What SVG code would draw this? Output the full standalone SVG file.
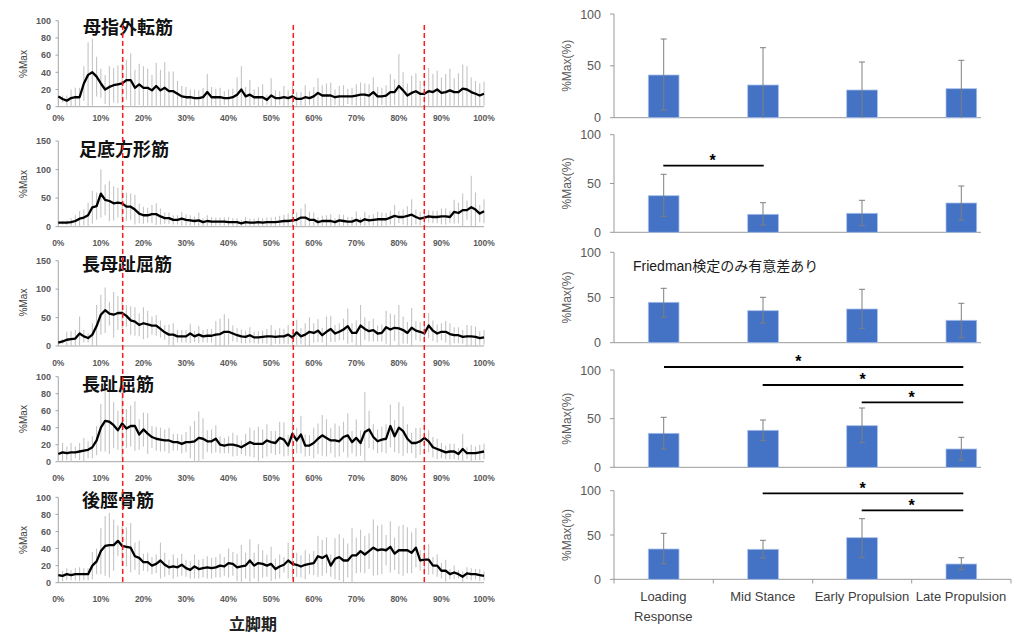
<svg xmlns="http://www.w3.org/2000/svg" width="1024" height="644" viewBox="0 0 1024 644">
<style>
.bg{fill:#ffffff}
.ttl{font-family:"Noto Sans CJK JP","Noto Sans CJK SC",sans-serif;font-size:18px;font-weight:bold;fill:#111}
.ax{stroke:#a6a6a6;stroke-width:1;fill:none}
.yt{font-family:"Liberation Sans",Arial,sans-serif;font-size:9px;font-weight:bold;fill:#595959;text-anchor:end}
.xt{font-family:"Liberation Sans",Arial,sans-serif;font-size:8.5px;font-weight:bold;fill:#595959;text-anchor:middle}
.yl{font-family:"Liberation Sans",Arial,sans-serif;font-size:10px;fill:#404040;text-anchor:middle}
.eb{stroke:#c4c4c4;stroke-width:1.1;fill:none;vector-effect:non-scaling-stroke}
.mean{stroke:#000;stroke-width:2.3;fill:none;stroke-linejoin:round;vector-effect:non-scaling-stroke}
.red{stroke:#ff1a1a;stroke-width:1.5;stroke-dasharray:5 3;fill:none}
.rax{stroke:#9a9a9a;stroke-width:1;fill:none}
.rt{font-family:"Liberation Sans",Arial,sans-serif;font-size:12.5px;fill:#595959;text-anchor:end}
.ryl{font-family:"Liberation Sans",Arial,sans-serif;font-size:12px;fill:#595959;text-anchor:middle}
.bar{fill:#4472c4;stroke:#a9c1ea;stroke-width:0.8}
.rerr{stroke:#7f7f7f;stroke-width:1;fill:none}
.sig{stroke:#000;stroke-width:1.8;fill:none}
.star{font-family:"Liberation Sans",Arial,sans-serif;font-size:16px;font-weight:bold;fill:#000;text-anchor:middle}
.cat{font-family:"Liberation Sans",Arial,sans-serif;font-size:13px;fill:#404040;text-anchor:middle}
.note{font-family:"Liberation Sans","Noto Sans CJK JP",sans-serif;font-size:14px;fill:#1a1a1a}
.xlab{font-family:"Noto Sans CJK JP","Noto Sans CJK SC",sans-serif;font-size:16px;font-weight:bold;fill:#222;text-anchor:middle}
</style>
<rect class="bg" x="0" y="0" width="1024" height="644"/>

<!-- Left chart 1 -->
<g id="emg-abductor-hallucis">
<path class="ax" d="M58.3,20.7V106.7H484 M55.5,20.7h2.8 M55.5,37.9h2.8 M55.5,55.1h2.8 M55.5,72.3h2.8 M55.5,89.5h2.8 M55.5,106.7h2.8"/>
<text class="yt" x="51" y="23.9">100</text><text class="yt" x="51" y="41.1">80</text><text class="yt" x="51" y="58.3">60</text><text class="yt" x="51" y="75.5">40</text><text class="yt" x="51" y="92.7">20</text><text class="yt" x="51" y="109.9">0</text>
<g><text class="xt" x="58.3" y="121.3">0%</text><text class="xt" x="100.9" y="121.3">10%</text><text class="xt" x="143.4" y="121.3">20%</text><text class="xt" x="186" y="121.3">30%</text><text class="xt" x="228.6" y="121.3">40%</text><text class="xt" x="271.2" y="121.3">50%</text><text class="xt" x="313.7" y="121.3">60%</text><text class="xt" x="356.3" y="121.3">70%</text><text class="xt" x="398.9" y="121.3">80%</text><text class="xt" x="441.4" y="121.3">90%</text><text class="xt" x="484" y="121.3">100%</text></g>
<text class="yl" transform="translate(26.5,64) rotate(-90)">%Max</text>
<g transform="translate(58.3,106.7) scale(4.257,-0.86)">
<path class="eb" d="M0,15V9 M1,13V5 M2,13V1 M3,20V0 M4,22V0 M5,22V0 M6,47V7 M7,75V0 M8,79V1 M9,58V12 M10,44V10 M11,37V3 M12,47V0 M13,45V5 M14,48V4 M15,50V4 M16,54V8 M17,62V0 M18,43V1 M19,50V2 M20,47V0 M21,44V0 M22,37V1 M23,51V0 M24,43V0 M25,52V0 M26,41V0 M27,41V0 M28,30V0 M29,24V0 M30,23V0 M31,20V2 M32,20V0 M33,19V1 M34,22V0 M35,38V0 M36,23V0 M37,21V1 M38,22V0 M39,18V2 M40,20V0 M41,21V1 M42,34V0 M43,47V0 M44,23V1 M45,31V0 M46,20V2 M47,23V0 M48,26V0 M49,14V2 M50,33V0 M51,19V1 M52,18V2 M53,24V0 M54,19V1 M55,24V0 M56,17V1 M57,17V1 M58,25V0 M59,18V2 M60,23V1 M61,33V0 M62,25V1 M63,27V0 M64,28V0 M65,20V2 M66,24V0 M67,25V0 M68,21V3 M69,22V2 M70,26V0 M71,28V0 M72,27V1 M73,26V0 M74,34V0 M75,23V1 M76,22V2 M77,25V1 M78,38V0 M79,32V2 M80,61V0 M81,40V0 M82,27V0 M83,36V0 M84,39V0 M85,30V0 M86,31V0 M87,45V0 M88,38V0 M89,42V0 M90,34V0 M91,38V0 M92,44V0 M93,33V1 M94,39V0 M95,49V0 M96,47V0 M97,34V0 M98,30V0 M99,27V0 M100,29V1"/>
<polyline class="mean" points="0,12 1,9 2,7 3,10 4,11 5,11 6,27 7,37 8,40 9,35 10,27 11,20 12,23 13,25 14,26 15,27 16,31 17,31 18,22 19,26 20,22 21,22 22,19 23,24 24,19 25,22 26,18 27,18 28,15 29,12 30,11 31,11 32,10 33,10 34,11 35,17 36,11 37,11 38,11 39,10 40,10 41,11 42,14 43,20 44,12 45,14 46,11 47,11 48,11 49,8 50,13 51,10 52,10 53,11 54,10 55,12 56,9 57,9 58,11 59,10 60,12 61,16 62,13 63,13 64,13 65,11 66,12 67,12 68,12 69,12 70,13 71,14 72,14 73,13 74,17 75,12 76,12 77,13 78,17 79,17 80,24 81,19 82,13 83,16 84,18 85,15 86,15 87,18 88,17 89,20 90,16 91,17 92,19 93,17 94,17 95,21 96,20 97,17 98,15 99,13 100,15"/>
</g>
<text class="ttl" x="83" y="33.7">母指外転筋</text>
</g>

<!-- Left chart 2 -->
<g id="emg-quadratus-plantae">
<path class="ax" d="M58.3,141V226.7H484 M55.5,141h2.8 M55.5,169.6h2.8 M55.5,198.1h2.8 M55.5,226.7h2.8"/>
<text class="yt" x="51" y="144.2">150</text><text class="yt" x="51" y="172.8">100</text><text class="yt" x="51" y="201.3">50</text><text class="yt" x="51" y="229.9">0</text>
<g><text class="xt" x="58.3" y="246.3">0%</text><text class="xt" x="100.9" y="246.3">10%</text><text class="xt" x="143.4" y="246.3">20%</text><text class="xt" x="186" y="246.3">30%</text><text class="xt" x="228.6" y="246.3">40%</text><text class="xt" x="271.2" y="246.3">50%</text><text class="xt" x="313.7" y="246.3">60%</text><text class="xt" x="356.3" y="246.3">70%</text><text class="xt" x="398.9" y="246.3">80%</text><text class="xt" x="441.4" y="246.3">90%</text><text class="xt" x="484" y="246.3">100%</text></g>
<text class="yl" transform="translate(26.5,184) rotate(-90)">%Max</text>
<g transform="translate(58.3,226.7) scale(4.257,-0.5713)">
<path class="eb" d="M0,10V4 M1,10V4 M2,11V3 M3,15V1 M4,20V0 M5,27V1 M6,30V2 M7,42V0 M8,63V5 M9,60V12 M10,100V16 M11,74V20 M12,80V10 M13,71V11 M14,68V16 M15,70V12 M16,60V10 M17,58V12 M18,56V4 M19,40V6 M20,35V5 M21,33V7 M22,38V6 M23,41V3 M24,32V4 M25,25V5 M26,25V5 M27,20V4 M28,20V4 M29,26V2 M30,22V2 M31,20V2 M32,18V2 M33,25V0 M34,15V1 M35,20V0 M36,17V1 M37,16V2 M38,16V2 M39,16V2 M40,17V0 M41,15V1 M42,15V1 M43,12V0 M44,17V0 M45,14V0 M46,14V0 M47,16V0 M48,15V0 M49,16V0 M50,16V0 M51,17V0 M52,19V0 M53,21V0 M54,23V0 M55,24V0 M56,25V0 M57,32V0 M58,40V0 M59,26V0 M60,25V0 M61,16V0 M62,19V1 M63,20V0 M64,22V0 M65,15V1 M66,22V0 M67,21V0 M68,17V1 M69,17V1 M70,27V0 M71,16V2 M72,26V0 M73,20V2 M74,22V2 M75,26V0 M76,25V1 M77,24V2 M78,28V4 M79,38V0 M80,28V6 M81,30V4 M82,36V2 M83,48V0 M84,30V4 M85,26V2 M86,28V4 M87,29V7 M88,28V6 M89,28V6 M90,32V4 M91,32V4 M92,28V6 M93,47V5 M94,42V6 M95,58V0 M96,46V12 M97,89V0 M98,60V0 M99,38V8 M100,48V6"/>
<polyline class="mean" points="0,7 1,7 2,7 3,8 4,10 5,14 6,16 7,20 8,34 9,36 10,58 11,47 12,45 13,41 14,42 15,41 16,35 17,35 18,30 19,23 20,20 21,20 22,22 23,22 24,18 25,15 26,15 27,12 28,12 29,14 30,12 31,11 32,10 33,11 34,8 35,10 36,9 37,9 38,9 39,9 40,8 41,8 42,8 43,6 44,8 45,7 46,7 47,8 48,7 49,8 50,8 51,8 52,9 53,10 54,10 55,11 56,12 57,16 58,16 59,12 60,12 61,8 62,10 63,10 64,10 65,8 66,11 67,10 68,9 69,9 70,12 71,9 72,13 73,11 74,12 75,13 76,13 77,13 78,16 79,19 80,17 81,17 82,19 83,21 84,17 85,14 86,16 87,18 88,17 89,17 90,18 91,18 92,17 93,26 94,24 95,29 96,29 97,34 98,30 99,23 100,27"/>
</g>
<text class="ttl" x="79" y="156">足底方形筋</text>
</g>

<!-- Left chart 3 -->
<g id="emg-fhl">
<path class="ax" d="M58.3,260.7V346H484 M55.5,260.7h2.8 M55.5,289.1h2.8 M55.5,317.6h2.8 M55.5,346h2.8"/>
<text class="yt" x="51" y="263.9">150</text><text class="yt" x="51" y="292.3">100</text><text class="yt" x="51" y="320.8">50</text><text class="yt" x="51" y="349.2">0</text>
<g><text class="xt" x="58.3" y="366.3">0%</text><text class="xt" x="100.9" y="366.3">10%</text><text class="xt" x="143.4" y="366.3">20%</text><text class="xt" x="186" y="366.3">30%</text><text class="xt" x="228.6" y="366.3">40%</text><text class="xt" x="271.2" y="366.3">50%</text><text class="xt" x="313.7" y="366.3">60%</text><text class="xt" x="356.3" y="366.3">70%</text><text class="xt" x="398.9" y="366.3">80%</text><text class="xt" x="441.4" y="366.3">90%</text><text class="xt" x="484" y="366.3">100%</text></g>
<text class="yl" transform="translate(26.5,302.5) rotate(-90)">%Max</text>
<g transform="translate(58.3,346) scale(4.257,-0.5687)">
<path class="eb" d="M0,8V4 M1,12V4 M2,25V0 M3,26V0 M4,28V0 M5,52V0 M6,28V6 M7,22V6 M8,40V0 M9,72V0 M10,90V20 M11,103V23 M12,78V36 M13,95V15 M14,88V28 M15,85V31 M16,72V34 M17,70V20 M18,68V18 M19,57V17 M20,68V12 M21,62V14 M22,52V20 M23,54V18 M24,45V15 M25,37V11 M26,38V2 M27,40V0 M28,28V6 M29,28V6 M30,28V6 M31,39V5 M32,27V7 M33,35V5 M34,28V6 M35,30V6 M36,30V6 M37,44V0 M38,48V0 M39,56V0 M40,48V2 M41,36V8 M42,31V7 M43,29V5 M44,27V5 M45,33V5 M46,25V5 M47,26V4 M48,27V5 M49,30V4 M50,37V0 M51,28V4 M52,31V3 M53,30V4 M54,37V3 M55,28V2 M56,46V2 M57,31V3 M58,40V0 M59,50V0 M60,40V6 M61,47V7 M62,32V6 M63,52V0 M64,53V7 M65,37V7 M66,40V10 M67,48V10 M68,66V4 M69,40V6 M70,45V1 M71,72V0 M72,50V10 M73,44V8 M74,48V8 M75,36V8 M76,38V8 M77,62V4 M78,57V1 M79,55V9 M80,72V0 M81,52V4 M82,42V4 M83,67V0 M84,44V10 M85,42V8 M86,38V6 M87,58V14 M88,45V9 M89,38V6 M90,40V10 M91,44V6 M92,40V2 M93,33V5 M94,33V5 M95,28V4 M96,37V0 M97,36V0 M98,34V0 M99,26V2 M100,28V2"/>
<polyline class="mean" points="0,6 1,8 2,11 3,12 4,13 5,22 6,17 7,14 8,20 9,35 10,55 11,63 12,57 13,55 14,58 15,58 16,53 17,45 18,43 19,37 20,40 21,38 22,36 23,36 24,30 25,24 26,20 27,20 28,17 29,17 30,17 31,22 32,17 33,20 34,17 35,18 36,18 37,20 38,21 39,25 40,25 41,22 42,19 43,17 44,16 45,19 46,15 47,15 48,16 49,17 50,17 51,16 52,17 53,17 54,20 55,15 56,24 57,17 58,20 59,25 60,23 61,27 62,19 63,25 64,30 65,22 66,25 67,29 68,35 69,23 70,23 71,36 72,30 73,26 74,28 75,22 76,23 77,33 78,29 79,32 80,31 81,28 82,23 83,32 84,27 85,25 86,22 87,36 88,27 89,22 90,25 91,25 92,21 93,19 94,19 95,16 96,17 97,17 98,16 99,14 100,15"/>
</g>
<text class="ttl" x="82" y="270.5">長母趾屈筋</text>
</g>

<!-- Left chart 4 -->
<g id="emg-fdl">
<path class="ax" d="M58.3,376.7V461.7H484 M55.5,376.7h2.8 M55.5,393.7h2.8 M55.5,410.7h2.8 M55.5,427.7h2.8 M55.5,444.7h2.8 M55.5,461.7h2.8"/>
<text class="yt" x="51" y="379.9">100</text><text class="yt" x="51" y="396.9">80</text><text class="yt" x="51" y="413.9">60</text><text class="yt" x="51" y="430.9">40</text><text class="yt" x="51" y="447.9">20</text><text class="yt" x="51" y="464.9">0</text>
<g><text class="xt" x="58.3" y="481.3">0%</text><text class="xt" x="100.9" y="481.3">10%</text><text class="xt" x="143.4" y="481.3">20%</text><text class="xt" x="186" y="481.3">30%</text><text class="xt" x="228.6" y="481.3">40%</text><text class="xt" x="271.2" y="481.3">50%</text><text class="xt" x="313.7" y="481.3">60%</text><text class="xt" x="356.3" y="481.3">70%</text><text class="xt" x="398.9" y="481.3">80%</text><text class="xt" x="441.4" y="481.3">90%</text><text class="xt" x="484" y="481.3">100%</text></g>
<text class="yl" transform="translate(26.5,419) rotate(-90)">%Max</text>
<g transform="translate(58.3,461.7) scale(4.257,-0.85)">
<path class="eb" d="M0,20V0 M1,22V0 M2,18V2 M3,22V0 M4,18V4 M5,22V2 M6,28V0 M7,24V4 M8,30V4 M9,42V8 M10,68V12 M11,84V12 M12,85V9 M13,70V16 M14,60V14 M15,85V5 M16,62V16 M17,66V18 M18,71V13 M19,50V14 M20,58V18 M21,57V9 M22,42V16 M23,41V13 M24,40V12 M25,38V12 M26,40V10 M27,33V13 M28,33V13 M29,32V10 M30,35V11 M31,42V4 M32,48V0 M33,59V0 M34,51V3 M35,37V11 M36,38V10 M37,43V11 M38,30V10 M39,28V10 M40,30V10 M41,34V6 M42,31V7 M43,25V9 M44,33V7 M45,40V6 M46,37V5 M47,41V1 M48,38V4 M49,44V6 M50,36V10 M51,36V8 M52,47V9 M53,46V6 M54,31V7 M55,62V4 M56,40V10 M57,54V10 M58,32V6 M59,31V7 M60,40V4 M61,45V9 M62,55V7 M63,50V6 M64,40V10 M65,45V5 M66,42V6 M67,47V11 M68,57V5 M69,36V10 M70,50V6 M71,37V7 M72,82V0 M73,60V16 M74,44V14 M75,38V10 M76,41V11 M77,44V10 M78,67V17 M79,49V11 M80,70V10 M81,65V7 M82,44V10 M83,34V10 M84,40V4 M85,40V8 M86,46V10 M87,37V11 M88,29V5 M89,27V3 M90,22V4 M91,19V3 M92,21V3 M93,21V3 M94,16V2 M95,33V0 M96,17V3 M97,20V0 M98,18V2 M99,20V2 M100,21V3"/>
<polyline class="mean" points="0,9 1,11 2,10 3,11 4,11 5,12 6,13 7,14 8,17 9,25 10,40 11,48 12,47 13,43 14,37 15,45 16,39 17,42 18,42 19,32 20,38 21,33 22,29 23,27 24,26 25,25 26,25 27,23 28,23 29,21 30,23 31,23 32,24 33,28 34,27 35,24 36,24 37,27 38,20 39,19 40,20 41,20 42,19 43,17 44,20 45,23 46,21 47,21 48,21 49,25 50,23 51,22 52,28 53,26 54,19 55,33 56,25 57,32 58,19 59,19 60,22 61,27 62,31 63,28 64,25 65,25 66,24 67,29 68,31 69,23 70,28 71,22 72,35 73,38 74,29 75,24 76,26 77,27 78,42 79,30 80,40 81,36 82,27 83,22 84,22 85,24 86,28 87,24 88,17 89,15 90,13 91,11 92,12 93,12 94,9 95,15 96,10 97,10 98,10 99,11 100,12"/>
</g>
<text class="ttl" x="82" y="390.5">長趾屈筋</text>
</g>

<!-- Left chart 5 -->
<g id="emg-tibialis-posterior">
<path class="ax" d="M58.3,497.3V582.7H484 M55.5,497.3h2.8 M55.5,514.4h2.8 M55.5,531.5h2.8 M55.5,548.5h2.8 M55.5,565.6h2.8 M55.5,582.7h2.8"/>
<text class="yt" x="51" y="500.5">100</text><text class="yt" x="51" y="517.6">80</text><text class="yt" x="51" y="534.7">60</text><text class="yt" x="51" y="551.7">40</text><text class="yt" x="51" y="568.8">20</text><text class="yt" x="51" y="585.9">0</text>
<g><text class="xt" x="58.3" y="602">0%</text><text class="xt" x="100.9" y="602">10%</text><text class="xt" x="143.4" y="602">20%</text><text class="xt" x="186" y="602">30%</text><text class="xt" x="228.6" y="602">40%</text><text class="xt" x="271.2" y="602">50%</text><text class="xt" x="313.7" y="602">60%</text><text class="xt" x="356.3" y="602">70%</text><text class="xt" x="398.9" y="602">80%</text><text class="xt" x="441.4" y="602">90%</text><text class="xt" x="484" y="602">100%</text></g>
<text class="yl" transform="translate(26.5,540) rotate(-90)">%Max</text>
<g transform="translate(58.3,582.7) scale(4.257,-0.854)">
<path class="eb" d="M0,12V6 M1,14V2 M2,17V3 M3,15V3 M4,17V3 M5,18V2 M6,17V3 M7,17V3 M8,36V4 M9,40V10 M10,64V10 M11,78V8 M12,82V6 M13,74V14 M14,67V31 M15,66V20 M16,65V19 M17,70V12 M18,47V15 M19,49V9 M20,34V14 M21,35V13 M22,30V10 M23,33V11 M24,47V5 M25,35V7 M26,27V9 M27,33V5 M28,29V7 M29,34V8 M30,27V7 M31,25V5 M32,33V5 M33,27V5 M34,28V6 M35,31V5 M36,29V5 M37,30V6 M38,34V6 M39,30V8 M40,40V6 M41,36V8 M42,34V2 M43,44V0 M44,35V5 M45,51V1 M46,35V5 M47,45V1 M48,38V6 M49,33V7 M50,42V2 M51,28V4 M52,33V5 M53,30V12 M54,47V5 M55,40V4 M56,35V7 M57,32V6 M58,38V4 M59,34V10 M60,37V9 M61,55V7 M62,50V8 M63,53V11 M64,33V7 M65,52V4 M66,57V3 M67,52V0 M68,46V6 M69,64V0 M70,53V11 M71,62V12 M72,55V11 M73,58V16 M74,74V8 M75,67V9 M76,68V10 M77,56V20 M78,72V12 M79,53V15 M80,66V10 M81,68V8 M82,65V11 M83,59V11 M84,64V18 M85,38V14 M86,45V9 M87,45V9 M88,30V10 M89,33V7 M90,23V5 M91,27V1 M92,16V4 M93,20V4 M94,15V5 M95,13V1 M96,18V4 M97,17V3 M98,16V4 M99,16V2 M100,13V3"/>
<polyline class="mean" points="0,9 1,8 2,10 3,9 4,10 5,10 6,10 7,10 8,20 9,25 10,37 11,43 12,44 13,44 14,49 15,43 16,42 17,41 18,31 19,29 20,24 21,24 22,20 23,22 24,26 25,21 26,18 27,19 28,18 29,21 30,17 31,15 32,19 33,16 34,17 35,18 36,17 37,18 38,20 39,19 40,23 41,22 42,18 43,19 44,20 45,26 46,20 47,23 48,22 49,20 50,22 51,16 52,19 53,21 54,26 55,22 56,21 57,19 58,21 59,22 60,23 61,31 62,29 63,32 64,20 65,28 66,30 67,26 68,26 69,32 70,32 71,37 72,33 73,37 74,41 75,38 76,39 77,38 78,42 79,34 80,38 81,38 82,38 83,35 84,41 85,26 86,27 87,27 88,20 89,20 90,14 91,14 92,10 93,12 94,10 95,7 96,11 97,10 98,10 99,9 100,8"/>
</g>
<text class="ttl" x="82" y="506.5">後脛骨筋</text>
<text class="xlab" x="253" y="630">立脚期</text>
</g>

<!-- Phase boundary dashed lines -->
<g id="phase-lines">
<path class="red" d="M122.7,25V585 M293.3,25V585 M424.3,25V585"/>
</g>

<!-- Right bar chart 1 -->
<g id="bar-abductor-hallucis">
<path class="rax" d="M614,14V117.7H981 M610,14h4 M610,65.85h4 M610,117.7h4"/>
<text class="rt" x="601" y="18.5">100</text><text class="rt" x="601" y="70.3">50</text><text class="rt" x="601" y="122.1">0</text>
<text class="ryl" transform="translate(570.5,65.85) rotate(-90)">%Max(%)</text>
<rect class="bar" x="648.3" y="75" width="30.7" height="42.7"/>
<rect class="bar" x="747.7" y="85" width="30.7" height="32.7"/>
<rect class="bar" x="846.7" y="90" width="30.7" height="27.7"/>
<rect class="bar" x="946" y="88.7" width="30.7" height="29"/>
<path class="rerr" d="M663.7,39V110 M660.7,39h6 M660.7,110h6 M763,47.7V117.7 M760,47.7h6 M862,62V117.7 M859,62h6 M961.3,60.3V117.7 M958.3,60.3h6"/>
</g>

<!-- Right bar chart 2 -->
<g id="bar-quadratus-plantae">
<path class="rax" d="M614,134.7V232.3H981 M610,134.7h4 M610,183.5h4 M610,232.3h4"/>
<text class="rt" x="601" y="139.2">100</text><text class="rt" x="601" y="188">50</text><text class="rt" x="601" y="236.8">0</text>
<text class="ryl" transform="translate(570.5,183.5) rotate(-90)">%Max(%)</text>
<rect class="bar" x="648.3" y="195.7" width="30.7" height="36.6"/>
<rect class="bar" x="747.7" y="214.3" width="30.7" height="18"/>
<rect class="bar" x="846.7" y="213.3" width="30.7" height="19"/>
<rect class="bar" x="946" y="203" width="30.7" height="29.3"/>
<path class="rerr" d="M663.7,174.3V216.3 M660.7,174.3h6 M660.7,216.3h6 M763,202.7V225 M760,202.7h6 M760,225h6 M862,200.3V225.7 M859,200.3h6 M859,225.7h6 M961.3,186V220 M958.3,186h6 M958.3,220h6"/>
<path class="sig" d="M663.3,165.7H763.7"/>
<text class="star" x="712.7" y="166">*</text>
</g>

<!-- Right bar chart 3 -->
<g id="bar-fhl">
<path class="rax" d="M614,252.3V342.7H981 M610,252.3h4 M610,297.5h4 M610,342.7h4"/>
<text class="rt" x="601" y="256.8">100</text><text class="rt" x="601" y="302">50</text><text class="rt" x="601" y="347.2">0</text>
<text class="ryl" transform="translate(570.5,297.5) rotate(-90)">%Max(%)</text>
<rect class="bar" x="648.3" y="302.3" width="30.7" height="40.4"/>
<rect class="bar" x="747.7" y="310.7" width="30.7" height="32"/>
<rect class="bar" x="846.7" y="309" width="30.7" height="33.7"/>
<rect class="bar" x="946" y="320.3" width="30.7" height="22.4"/>
<path class="rerr" d="M663.7,288.3V317.3 M660.7,288.3h6 M660.7,317.3h6 M763,297.3V323 M760,297.3h6 M760,323h6 M862,289.3V328.3 M859,289.3h6 M859,328.3h6 M961.3,303.3V337.7 M958.3,303.3h6 M958.3,337.7h6"/>
<text class="note" x="633" y="270.5">Friedman検定のみ有意差あり</text>
</g>

<!-- Right bar chart 4 -->
<g id="bar-fdl">
<path class="rax" d="M614,370V467.3H981 M610,370h4 M610,418.65h4 M610,467.3h4"/>
<text class="rt" x="601" y="374.5">100</text><text class="rt" x="601" y="423.1">50</text><text class="rt" x="601" y="471.8">0</text>
<text class="ryl" transform="translate(570.5,418.65) rotate(-90)">%Max(%)</text>
<rect class="bar" x="648.3" y="433.3" width="30.7" height="34"/>
<rect class="bar" x="747.7" y="430.3" width="30.7" height="37"/>
<rect class="bar" x="846.7" y="425.7" width="30.7" height="41.6"/>
<rect class="bar" x="946" y="449" width="30.7" height="18.3"/>
<path class="rerr" d="M663.7,417.3V449 M660.7,417.3h6 M660.7,449h6 M763,420V440.3 M760,420h6 M760,440.3h6 M862,408V442.7 M859,408h6 M859,442.7h6 M961.3,437.3V460.3 M958.3,437.3h6 M958.3,460.3h6"/>
<path class="sig" d="M664,367H963.3 M762.7,385H963.3 M861.7,402.3H963.3"/>
<text class="star" x="798.3" y="367.3">*</text>
<text class="star" x="862.7" y="385.3">*</text>
<text class="star" x="911.7" y="402.6">*</text>
</g>

<!-- Right bar chart 5 -->
<g id="bar-tibialis-posterior">
<path class="rax" d="M614,490.7V583.5 M614,579.3H1011 M610,490.7h4 M610,535h4 M610,579.3h4 M713.3,579.3v4.2 M812.7,579.3v4.2 M911.7,579.3v4.2 M1011,579.3v4.2"/>
<text class="rt" x="601" y="495.2">100</text><text class="rt" x="601" y="539.5">50</text><text class="rt" x="601" y="583.8">0</text>
<text class="ryl" transform="translate(570.5,535) rotate(-90)">%Max(%)</text>
<rect class="bar" x="648.3" y="549" width="30.7" height="30.3"/>
<rect class="bar" x="747.7" y="549.3" width="30.7" height="30"/>
<rect class="bar" x="846.7" y="537.7" width="30.7" height="41.6"/>
<rect class="bar" x="946" y="564" width="30.7" height="15.3"/>
<path class="rerr" d="M663.7,533.3V563.7 M660.7,533.3h6 M660.7,563.7h6 M763,540.3V558 M760,540.3h6 M760,558h6 M862,518.7V557.3 M859,518.7h6 M859,557.3h6 M961.3,557.7V569.7 M958.3,557.7h6 M958.3,569.7h6"/>
<path class="sig" d="M762.7,493.3H963.3 M861.7,510.3H963.3"/>
<text class="star" x="862.7" y="493.6">*</text>
<text class="star" x="911.7" y="510.6">*</text>
<text class="cat" x="663.3" y="601">Loading</text>
<text class="cat" x="663.3" y="621">Response</text>
<text class="cat" x="762.7" y="601">Mid Stance</text>
<text class="cat" x="862" y="601">Early Propulsion</text>
<text class="cat" x="961" y="601">Late Propulsion</text>
</g>
</svg>
